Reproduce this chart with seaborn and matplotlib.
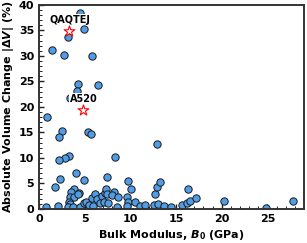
import matplotlib
matplotlib.use("Agg")
import matplotlib.pyplot as plt
import seaborn as sns
import pandas as pd
from matplotlib.ticker import MultipleLocator

bulk_modulus = [
    4.5, 4.9, 3.2, 1.4, 2.75, 5.8, 4.3, 6.5, 4.2, 3.4, 0.85,
    2.5, 2.2, 5.4, 5.7, 3.3, 2.8, 2.2, 8.35, 4.07, 2.3, 4.9, 1.8, 7.4,
    9.7, 10.1, 3.8, 3.5, 4.4, 3.4, 3.8, 4.3, 3.3, 3.4, 0.77, 2.05, 3.15,
    3.7, 4.5, 4.9, 5.2, 5.5, 5.9, 5.8, 6.15, 6.3, 6.7, 6.9, 7.25, 7.3,
    7.4, 8.2, 8.0, 8.7, 9.6, 7.1, 7.6, 9.7, 10.5, 8.5, 9.6, 11.1, 11.6,
    12.9, 12.75, 12.9, 13.2, 12.6, 13.0, 13.7, 14.4, 15.7, 16.15, 16.5,
    16.3, 17.2, 20.2, 24.8, 27.8,
]
volume_change = [
    38.5, 35.3, 33.7, 31.2, 30.1, 29.9, 24.4, 24.3, 23.2, 21.8, 18.1,
    15.2, 14.1, 15.0, 14.6, 10.3, 9.9, 9.6, 10.2, 7.1, 5.8, 5.7, 4.4, 6.2,
    5.5, 3.9, 3.9, 3.3, 3.2, 2.4, 2.4, 2.9, 1.4, 0.9, 0.3, 0.6, 0.45,
    0.3, 0.3, 1.1, 1.4, 0.8, 0.5, 2.2, 2.9, 2.0, 1.2, 2.6, 3.2, 4.0,
    2.9, 3.3, 2.7, 2.4, 2.4, 1.4, 1.1, 1.4, 1.3, 0.45, 0.6, 0.6, 0.8,
    12.7, 2.9, 4.3, 5.2, 0.8, 0.9, 0.6, 0.3, 0.8, 1.2, 1.6,
    4.0, 2.1, 1.6, 0.1, 1.6,
]
highlight_names = ["QAQTEJ", "A520"]
highlight_x = [3.3, 4.87]
highlight_y = [34.9, 19.4]

plt.rcParams['mathtext.fontset'] = 'custom'
plt.rcParams['mathtext.it'] = 'DejaVu Sans:bold:italic'
plt.rcParams['mathtext.rm'] = 'DejaVu Sans:bold'
plt.rcParams['mathtext.bf'] = 'DejaVu Sans:bold'

df = pd.DataFrame({"B": bulk_modulus, "dV": volume_change})
hl = pd.DataFrame({"name": highlight_names, "B": highlight_x, "dV": highlight_y})

fig = plt.figure(figsize=(3.07, 2.43), dpi=100)
ax = fig.add_axes([0.127, 0.140, 0.863, 0.840])

sns.scatterplot(data=df, x="B", y="dV", ax=ax, s=28, color="#4f9de6",
                edgecolor="#1a1a1a", linewidth=0.7, zorder=2)
sns.scatterplot(data=hl, x="B", y="dV", ax=ax, marker="*", s=65,
                facecolor="white", edgecolor="red", linewidth=0.8, zorder=3)

for name, bx, by in zip(highlight_names, highlight_x, highlight_y):
    ax.text(bx + 0.05, by + 2.2, name, ha="center", va="center",
            fontsize=7, fontweight="bold", zorder=4,
            bbox=dict(facecolor="white", edgecolor="none", pad=0.4))

ax.set_xlim(0, 29)
ax.set_ylim(0, 40)
ax.xaxis.set_major_locator(MultipleLocator(5))
ax.xaxis.set_minor_locator(MultipleLocator(1))
ax.yaxis.set_major_locator(MultipleLocator(5))
ax.yaxis.set_minor_locator(MultipleLocator(1))
ax.tick_params(which="both", direction="in", colors="#222222", labelcolor="black")
ax.tick_params(which="major", length=3.5, width=1.0, labelsize=8)
ax.tick_params(which="minor", length=2, width=0.7)
for lab in ax.get_xticklabels() + ax.get_yticklabels():
    lab.set_fontweight("bold")
for sp in ax.spines.values():
    sp.set_linewidth(1.4)
    sp.set_color("#333333")

ax.set_xlabel(r"Bulk Modulus, $B_0$ (GPa)", fontsize=8, fontweight="bold", labelpad=3)
ax.set_ylabel(r"Absolute Volume Change |$\Delta V$| (%)", fontsize=8,
              fontweight="bold", labelpad=2)

fig.savefig("out.png", dpi=100)
